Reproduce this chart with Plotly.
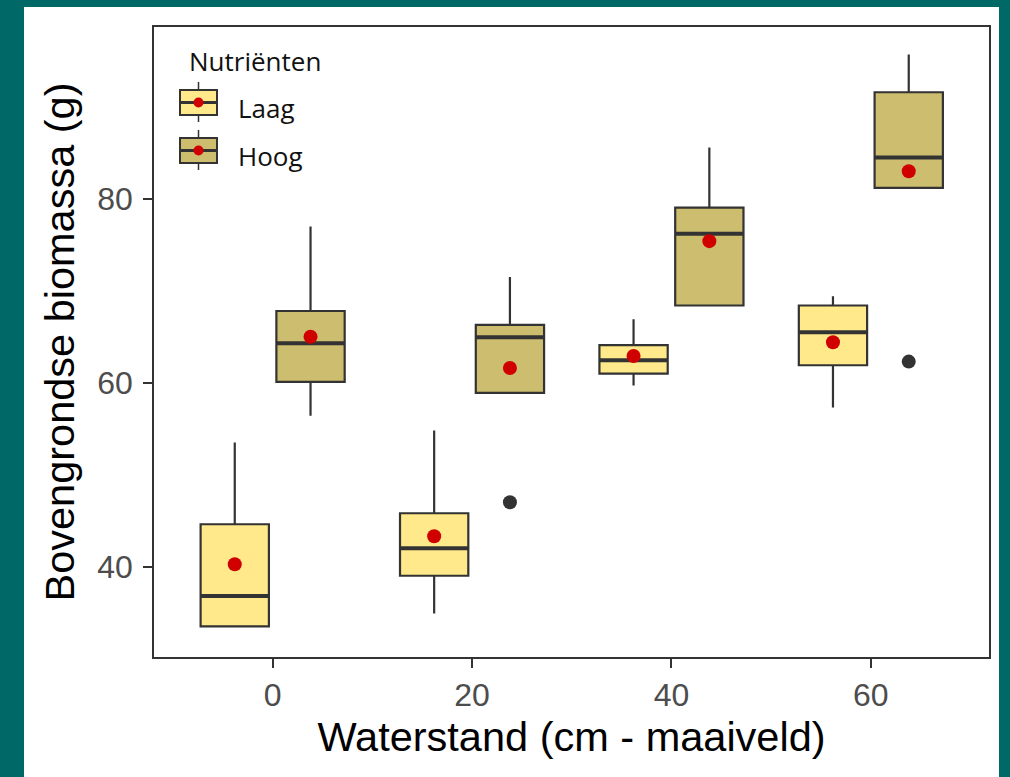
import plotly.graph_objects as go

# ---------------- data ----------------
WATERSTAND = [0, 20, 40, 60]
GROUPS = ["Laag", "Hoog"]

LAAG_LOW = [33.5, 34.9, 59.7, 57.3]
LAAG_Q1 = [33.5, 39.0, 61.0, 61.9]
LAAG_MED = [36.8, 42.0, 62.45, 65.5]
LAAG_Q3 = [44.6, 45.8, 64.1, 68.4]
LAAG_HIGH = [53.5, 54.8, 66.9, 69.4]
LAAG_MEAN = [40.25, 43.3, 62.9, 64.4]

HOOG_LOW = [56.4, 58.9, 68.4, 81.2]
HOOG_Q1 = [60.1, 58.9, 68.4, 81.2]
HOOG_MED = [64.3, 64.95, 76.2, 84.5]
HOOG_Q3 = [67.8, 66.3, 79.05, 91.6]
HOOG_HIGH = [77.0, 71.5, 85.6, 95.7]
HOOG_MEAN = [65.0, 61.6, 75.4, 83.0]

OUTLIER_X = [20, 60]
OUTLIER_GROUP = ["Hoog", "Hoog"]
OUTLIER_Y = [47.0, 62.3]

X_TICKS = [0, 20, 40, 60]
Y_TICKS = [40, 60, 80]

# ---------------- style ----------------
TEAL = "#006967"
FILL = {"Laag": "#FFE98A", "Hoog": "#CDBD6E"}
LINE = "#333333"
MEAN_COL = "#D10000"
DODGE = {"Laag": -3.8, "Hoog": 3.8}
BOX_W = 6.85
TICK_FONT = dict(family="Liberation Sans, Arial", size=32, color="#4D4D4D")
TITLE_FONT = dict(family="Liberation Sans, Arial", size=41.5, color="#000000")
LEG_FONT = dict(family="Open Sans, Noto Sans", size=26, color="#111111")

STATS = {
    "Laag": (LAAG_LOW, LAAG_Q1, LAAG_MED, LAAG_Q3, LAAG_HIGH, LAAG_MEAN),
    "Hoog": (HOOG_LOW, HOOG_Q1, HOOG_MED, HOOG_Q3, HOOG_HIGH, HOOG_MEAN),
}

fig = go.Figure()

for g in GROUPS:
    low, q1, med, q3, high, mean = STATS[g]
    xs = [w + DODGE[g] for w in WATERSTAND]
    fig.add_trace(go.Box(
        x=xs, lowerfence=low, q1=q1, median=med, q3=q3, upperfence=high,
        width=BOX_W, whiskerwidth=0, boxpoints=False,
        fillcolor=FILL[g], line=dict(color=LINE, width=2.2),
        name=g, showlegend=False, hoverinfo="skip",
    ))

# thicker median lines
for g in GROUPS:
    low, q1, med, q3, high, mean = STATS[g]
    mx, my = [], []
    for w, m in zip(WATERSTAND, med):
        c = w + DODGE[g]
        mx += [c - BOX_W / 2, c + BOX_W / 2, None]
        my += [m, m, None]
    fig.add_trace(go.Scatter(x=mx, y=my, mode="lines",
                             line=dict(color=LINE, width=4),
                             showlegend=False, hoverinfo="skip"))

# means
for g in GROUPS:
    low, q1, med, q3, high, mean = STATS[g]
    fig.add_trace(go.Scatter(
        x=[w + DODGE[g] for w in WATERSTAND], y=mean, mode="markers",
        marker=dict(color=MEAN_COL, size=14, line=dict(width=0)),
        showlegend=False, hoverinfo="skip"))

# outliers
fig.add_trace(go.Scatter(
    x=[w + DODGE[g] for w, g in zip(OUTLIER_X, OUTLIER_GROUP)], y=OUTLIER_Y,
    mode="markers", marker=dict(color=LINE, size=14, line=dict(width=0)),
    showlegend=False, hoverinfo="skip"))

# ---------------- layout ----------------
L, R, T, B = 154, 989, 27, 657
W, H = R - L, B - T


def px(x):
    return (x - L) / W


def py(y):
    return (B - y) / H


shapes = [dict(type="rect", xref="paper", yref="paper", layer="below",
               x0=px(24), x1=px(999), y0=py(790), y1=py(7),
               fillcolor="white", line=dict(width=0))]

annotations = [dict(text="Nutriënten", xref="paper", yref="paper",
                    x=px(187), y=py(61), xanchor="left", yanchor="middle",
                    showarrow=False, font=LEG_FONT)]

key_tops = {"Laag": 90, "Hoog": 138}
for g in GROUPS:
    t = key_tops[g]
    b = t + 25
    mid = (t + b) / 2
    cx = 198.5
    shapes += [
        dict(type="line", xref="paper", yref="paper", x0=px(cx), x1=px(cx),
             y0=py(t - 8), y1=py(b + 7), line=dict(color=LINE, width=1.5)),
        dict(type="rect", xref="paper", yref="paper", x0=px(180), x1=px(217),
             y0=py(b), y1=py(t), fillcolor=FILL[g], line=dict(color=LINE, width=2)),
        dict(type="line", xref="paper", yref="paper", x0=px(180), x1=px(217),
             y0=py(mid), y1=py(mid), line=dict(color=LINE, width=3)),
        dict(type="circle", xref="paper", yref="paper", x0=px(cx - 5), x1=px(cx + 5),
             y0=py(mid + 5), y1=py(mid - 5), fillcolor=MEAN_COL, line=dict(width=0)),
    ]
    annotations.append(dict(text=g, xref="paper", yref="paper",
                            x=px(236), y=py(mid + 5), xanchor="left", yanchor="middle",
                            showarrow=False, font=LEG_FONT))

fig.update_layout(
    width=1010, height=777,
    margin=dict(l=L, r=1010 - R, t=T, b=777 - B, autoexpand=False),
    paper_bgcolor=TEAL, plot_bgcolor="white",
    showlegend=False,
    shapes=shapes, annotations=annotations,
    xaxis=dict(range=[-11.9, 71.85], tickvals=X_TICKS, ticktext=[str(v) for v in X_TICKS],
               showgrid=False, zeroline=False, showline=True, mirror=True,
               linecolor=LINE, linewidth=1.6, ticks="outside", ticklen=9,
               tickwidth=1.6, tickcolor=LINE, tickfont=TICK_FONT,
               title=dict(text="Waterstand (cm - maaiveld)", font=TITLE_FONT, standoff=10)),
    yaxis=dict(range=[30.16, 98.7], tickvals=Y_TICKS, ticktext=[str(v) for v in Y_TICKS],
               showgrid=False, zeroline=False, showline=True, mirror=True,
               linecolor=LINE, linewidth=1.6, ticks="outside", ticklen=9,
               tickwidth=1.6, tickcolor=LINE, tickfont=TICK_FONT, ticklabelstandoff=4,
               title=dict(text="Bovengrondse biomassa (g)", font=TITLE_FONT, standoff=10)),
)

fig.write_html("out.html")
